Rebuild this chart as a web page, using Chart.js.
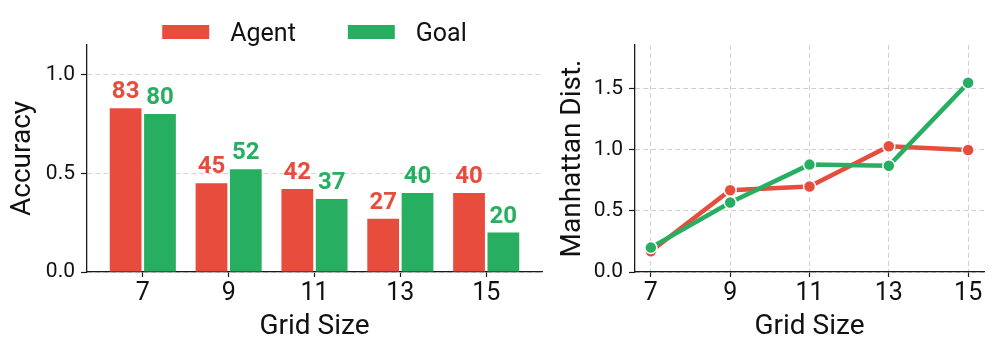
<!DOCTYPE html>
<html>
<head>
<meta charset="utf-8">
<script src="https://cdn.jsdelivr.net/npm/chart.js@4.4.1/dist/chart.umd.min.js"></script>
<style>
  html, body { margin: 0; padding: 0; background: #fff; }
  #wrap { position: relative; width: 997px; height: 354px; }
  #accChart { position: absolute; left: 0; top: 0; }
  #distChart { position: absolute; left: 550px; top: 0; }
</style>
</head>
<body>
<div id="wrap">
  <canvas id="accChart" width="550" height="354"></canvas>
  <canvas id="distChart" width="447" height="354"></canvas>
</div>
<script>
// Values
const gridSizes = [7, 9, 11, 13, 15];
const agentAcc = [0.83, 0.45, 0.42, 0.27, 0.40];
const goalAcc = [0.80, 0.52, 0.37, 0.40, 0.20];
const agentDist = [0.17, 0.67, 0.70, 1.03, 1.00];
const goalDist = [0.20, 0.57, 0.88, 0.87, 1.55];
const accTicks = [0.0, 0.5, 1.0];
const distTicks = [0.0, 0.5, 1.0, 1.5];
const seriesNames = ['Agent', 'Goal'];

const COLORS = {
    agent: '#E74C3C',
    goal: '#27AE60',
    grid: '#cfcfcf',
    axis: '#1a1a1a',
    text: '#111111'
};
const FONT = 'Roboto';

Chart.defaults.font.family = FONT;
Chart.defaults.color = COLORS.text;

const toPoints = (vals) => gridSizes.map((g, i) => ({ x: g, y: vals[i] }));

// Legend drawn above the left panel (wide box / gap layout like the original)
const topLegend = {
    id: 'topLegend',
    afterDraw(chart) {
        const ctx = chart.ctx;
        const boxW = 47, boxH = 14, gapText = 21, gapItem = 52;
        ctx.save();
        ctx.font = `25px ${FONT}`;
        const items = chart.data.datasets.map(ds => ({
            text: ds.label,
            color: ds.backgroundColor,
            w: ctx.measureText(ds.label).width
        }));
        const total = items.reduce((s, it) => s + boxW + gapText + it.w, 0) + gapItem * (items.length - 1);
        let x = (chart.chartArea.left + chart.chartArea.right) / 2 - total / 2;
        const cy = 32;
        items.forEach(it => {
            ctx.fillStyle = it.color;
            ctx.fillRect(x, cy - boxH / 2, boxW, boxH);
            x += boxW + gapText;
            ctx.fillStyle = COLORS.text;
            ctx.textBaseline = 'alphabetic';
            ctx.fillText(it.text, x, 41);
            x += it.w + gapItem;
        });
        ctx.restore();
    }
};

// Percent labels above each bar
const barValues = {
    id: 'barValues',
    afterDatasetsDraw(chart) {
        const ctx = chart.ctx;
        ctx.save();
        ctx.font = `bold 24px ${FONT}`;
        ctx.textAlign = 'center';
        ctx.textBaseline = 'alphabetic';
        chart.data.datasets.forEach((ds, i) => {
            ctx.fillStyle = ds.backgroundColor;
            chart.getDatasetMeta(i).data.forEach((bar, j) => {
                ctx.fillText(Math.round(ds.data[j].y * 100), bar.x, bar.y - 10);
            });
        });
        ctx.restore();
    }
};

function xAxis(min, max, gridOnArea) {
    return {
        type: 'linear',
        min: min,
        max: max,
        offset: false,
        afterBuildTicks: axis => { axis.ticks = gridSizes.map(v => ({ value: v })); },
        afterFit: axis => { axis.height = 82; },
        grid: {
            offset: false,
            drawOnChartArea: gridOnArea,
            color: COLORS.grid,
            lineWidth: 1,
            tickLength: 5,
            tickColor: COLORS.axis,
            tickWidth: 1.2
        },
        border: { color: COLORS.axis, width: 1.3, dash: [5, 3] },
        ticks: {
            color: COLORS.text,
            font: { size: 25 },
            padding: 2,
            maxRotation: 0,
            callback: v => String(v)
        },
        title: {
            display: true,
            text: 'Grid Size',
            color: COLORS.text,
            font: { size: 28 },
            padding: { top: 0, bottom: 10 }
        }
    };
}

function yAxis(max, tickVals, width, title, gridColor) {
    return {
        min: 0,
        max: max,
        afterBuildTicks: axis => { axis.ticks = tickVals.map(v => ({ value: v })); },
        afterFit: axis => { axis.width = width; },
        grid: {
            color: gridColor,
            lineWidth: 1,
            tickLength: 6,
            tickColor: COLORS.axis,
            tickWidth: 1.2
        },
        border: { color: COLORS.axis, width: 1.3, dash: [5, 3] },
        ticks: {
            color: COLORS.text,
            font: { size: 21 },
            padding: 6,
            callback: v => v.toFixed(1)
        },
        title: {
            display: true,
            text: title,
            color: COLORS.text,
            font: { size: 28 },
            padding: { top: 6, bottom: 0 }
        }
    };
}

// Left panel: accuracy bars
new Chart(document.getElementById('accChart').getContext('2d'), {
    type: 'bar',
    data: {
        datasets: [
            { label: seriesNames[0], data: toPoints(agentAcc), backgroundColor: COLORS.agent },
            { label: seriesNames[1], data: toPoints(goalAcc), backgroundColor: COLORS.goal }
        ]
    },
    options: {
        responsive: false,
        animation: false,
        categoryPercentage: 0.8,
        barPercentage: 0.925,
        layout: { padding: { top: 45, right: 8, bottom: 0, left: 0 } },
        plugins: { legend: { display: false }, tooltip: { enabled: false } },
        scales: {
            x: xAxis(5.7, 16.3, false),
            y: yAxis(1.15, accTicks, 87, 'Accuracy', '#d6d6d6')
        }
    },
    plugins: [barValues, topLegend]
});

// Right panel: Manhattan distance lines
const lineStyle = (color) => ({
    borderColor: color,
    backgroundColor: color,
    borderWidth: 4.5,
    tension: 0,
    pointRadius: 6,
    pointBackgroundColor: color,
    pointBorderColor: '#ffffff',
    pointBorderWidth: 1.5
});

new Chart(document.getElementById('distChart').getContext('2d'), {
    type: 'line',
    data: {
        datasets: [
            Object.assign({ label: seriesNames[0], data: toPoints(agentDist), order: 2 }, lineStyle(COLORS.agent)),
            Object.assign({ label: seriesNames[1], data: toPoints(goalDist), order: 1 }, lineStyle(COLORS.goal))
        ]
    },
    options: {
        responsive: false,
        animation: false,
        layout: { padding: { top: 45, right: 13, bottom: 0, left: 0 } },
        plugins: { legend: { display: false }, tooltip: { enabled: false } },
        scales: {
            x: xAxis(6.6, 15.4, true),
            y: yAxis(1.86, distTicks, 85, 'Manhattan Dist.', COLORS.grid)
        }
    }
});
</script>
</body>
</html>
